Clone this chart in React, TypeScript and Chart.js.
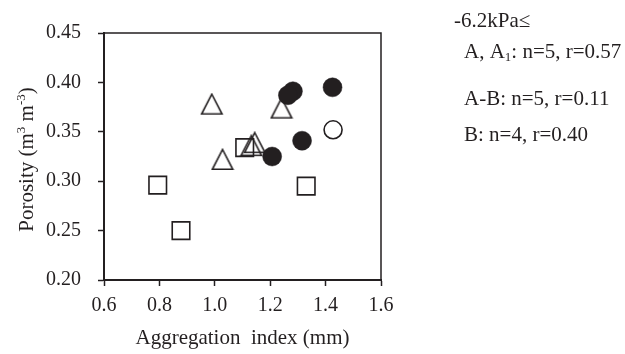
import { useEffect, useRef } from 'react';
import { Chart, registerables } from 'chart.js';

Chart.register(...registerables);

// Aggregation index (mm) and porosity (m3 m-3) per horizon group
const aggA: number[] = [1.282, 1.264, 1.425, 1.315, 1.207];
const poroA: number[] = [0.391, 0.387, 0.395, 0.341, 0.325];
const aggA1: number[] = [1.427];
const poroA1: number[] = [0.352];
const aggAB: number[] = [0.989, 1.028, 1.144, 1.132, 1.241];
const poroAB: number[] = [0.378, 0.322, 0.339, 0.336, 0.374];
const aggB: number[] = [0.794, 0.878, 1.108, 1.33];
const poroB: number[] = [0.296, 0.25, 0.334, 0.295];

const xTicks: number[] = [0.6, 0.8, 1.0, 1.2, 1.4, 1.6];
const yTicks: number[] = [0.2, 0.25, 0.3, 0.35, 0.4, 0.45];

const suctionLabel = '-6.2kPa\u2264';
const statsAB = 'A-B: n=5, r=0.11';
const statsB = 'B: n=4, r=0.40';

const INK = '#231f20';
const SERIF = "'Liberation Serif', 'Times New Roman', serif";

const pts = (xs: number[], ys: number[]) => xs.map((x, i) => ({ x, y: ys[i] }));

// Open triangle marker centred on its bounding box
function makeTriangle(): HTMLCanvasElement {
  const c = document.createElement('canvas');
  c.width = 24;
  c.height = 23;
  const g = c.getContext('2d')!;
  g.strokeStyle = INK;
  g.lineWidth = 1.6;
  g.lineJoin = 'miter';
  g.beginPath();
  g.moveTo(12, 1.5);
  g.lineTo(22.2, 21.3);
  g.lineTo(1.8, 21.3);
  g.closePath();
  g.stroke();
  return c;
}

type Seg = { t: string; size: number; dy: number };

function drawSegs(ctx: CanvasRenderingContext2D, segs: Seg[], x: number, y: number, align: 'left' | 'center') {
  const widths = segs.map((s) => {
    ctx.font = `${s.size}px ${SERIF}`;
    return ctx.measureText(s.t).width;
  });
  const total = widths.reduce((a, b) => a + b, 0);
  let cx = align === 'center' ? x - total / 2 : x;
  segs.forEach((s, i) => {
    ctx.font = `${s.size}px ${SERIF}`;
    ctx.fillText(s.t, cx, y + s.dy);
    cx += widths[i];
  });
}

const textPlugin = {
  id: 'annotText',
  beforeDatasetsDraw(chart: any) {
    const { ctx, chartArea } = chart;
    ctx.save();
    // top and right frame
    ctx.strokeStyle = INK;
    ctx.lineWidth = 1.5;
    ctx.beginPath();
    ctx.moveTo(chartArea.left, chartArea.top);
    ctx.lineTo(chartArea.right, chartArea.top);
    ctx.lineTo(chartArea.right, chartArea.bottom);
    ctx.stroke();
    ctx.restore();
  },
  afterDraw(chart: any) {
    const { ctx, chartArea } = chart;
    ctx.save();
    ctx.fillStyle = INK;
    ctx.textBaseline = 'alphabetic';
    ctx.textAlign = 'left';

    // y-axis title with superscripts
    ctx.save();
    ctx.translate(33, (chartArea.top + chartArea.bottom) / 2 + 3);
    ctx.rotate(-Math.PI / 2);
    drawSegs(
      ctx,
      [
        { t: 'Porosity (m', size: 21, dy: 0 },
        { t: '3', size: 13, dy: -8 },
        { t: ' m', size: 21, dy: 0 },
        { t: '-3', size: 13, dy: -8 },
        { t: ')', size: 21, dy: 0 },
      ],
      0,
      0,
      'center'
    );
    ctx.restore();

    // suction range and regression statistics
    drawSegs(ctx, [{ t: suctionLabel, size: 21, dy: 0 }], 454, 27, 'left');
    drawSegs(
      ctx,
      [
        { t: 'A, A', size: 21, dy: 0 },
        { t: '1', size: 13, dy: 3 },
        { t: ': n=5, r=0.57', size: 21, dy: 0 },
      ],
      464,
      58,
      'left'
    );
    drawSegs(ctx, [{ t: statsAB, size: 21, dy: 0 }], 464, 105, 'left');
    drawSegs(ctx, [{ t: statsB, size: 21, dy: 0 }], 464, 141, 'left');
    ctx.restore();
  },
};

export default function App() {
  const ref = useRef<HTMLCanvasElement | null>(null);

  useEffect(() => {
    if (!ref.current) return;
    const tri = makeTriangle();
    const chart = new Chart(ref.current, {
      type: 'scatter',
      data: {
        datasets: [
          {
            label: 'A',
            data: pts(aggA, poroA),
            pointStyle: 'circle',
            pointRadius: 9.5,
            backgroundColor: INK,
            borderColor: INK,
            borderWidth: 0.5,
          },
          {
            label: 'A1',
            data: pts(aggA1, poroA1),
            pointStyle: 'circle',
            pointRadius: 9,
            backgroundColor: '#ffffff',
            borderColor: INK,
            borderWidth: 1.6,
          },
          {
            label: 'A-B',
            data: pts(aggAB, poroAB),
            pointStyle: tri,
            pointRadius: 10,
            backgroundColor: 'rgba(0,0,0,0)',
            borderColor: INK,
          },
          {
            label: 'B',
            data: pts(aggB, poroB),
            pointStyle: 'rect',
            pointRadius: 12.4,
            backgroundColor: 'rgba(0,0,0,0)',
            borderColor: INK,
            borderWidth: 1.6,
          },
        ],
      },
      options: {
        animation: false,
        responsive: false,
        events: [],
        layout: { padding: { top: 33, right: 244, left: 0, bottom: 0 } },
        plugins: { legend: { display: false }, tooltip: { enabled: false } },
        scales: {
          x: {
            type: 'linear',
            min: 0.6,
            max: 1.6,
            afterFit: (s: any) => {
              s.height = 74;
            },
            afterBuildTicks: (s: any) => {
              s.ticks = xTicks.map((v) => ({ value: v }));
            },
            ticks: {
              color: INK,
              font: { family: SERIF, size: 20 },
              padding: 8,
              callback: (v: any) => Number(v).toFixed(1),
            },
            grid: {
              drawOnChartArea: false,
              drawTicks: true,
              tickLength: 6,
              tickWidth: 1.5,
              tickColor: INK,
            },
            border: { display: true, width: 2, color: INK },
            title: {
              display: true,
              text: 'Aggregation  index (mm)',
              color: INK,
              font: { family: SERIF, size: 21 },
              padding: { top: 0, bottom: 3 },
            },
          },
          y: {
            type: 'linear',
            min: 0.2,
            max: 0.45,
            afterFit: (s: any) => {
              s.width = 104;
            },
            afterBuildTicks: (s: any) => {
              s.ticks = yTicks.map((v) => ({ value: v }));
            },
            ticks: {
              color: INK,
              font: { family: SERIF, size: 20 },
              padding: 17,
              callback: (v: any) => Number(v).toFixed(2),
            },
            grid: {
              drawOnChartArea: false,
              drawTicks: true,
              tickLength: 6,
              tickWidth: 1.5,
              tickColor: INK,
            },
            border: { display: true, width: 2, color: INK },
          },
        },
      },
      plugins: [textPlugin],
    });
    return () => chart.destroy();
  }, []);

  return (
    <div style={{ position: 'fixed', left: 0, top: 0, width: 625, height: 354, background: '#fff' }}>
      <canvas ref={ref} width={625} height={354} style={{ display: 'block' }} />
    </div>
  );
}
